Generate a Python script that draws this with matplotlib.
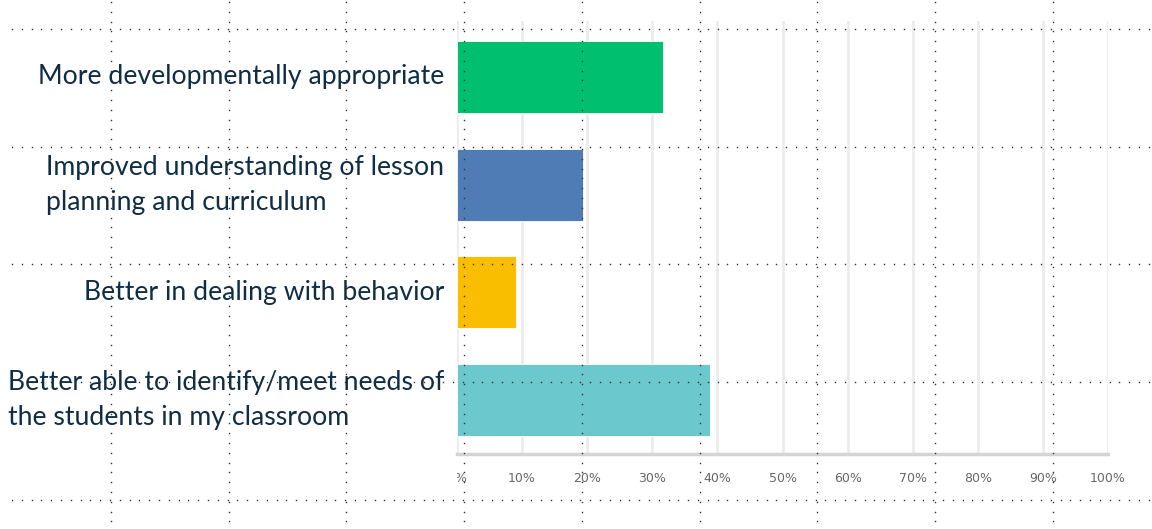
import matplotlib
matplotlib.use('Agg')
import matplotlib.pyplot as plt
import matplotlib.transforms as mtransforms
import numpy as np

categories = [
    'More developmentally appropriate',
    'Improved understanding of lesson\nplanning and curriculum',
    'Better in dealing with behavior',
    'Better able to identify/meet needs of\nthe students in my classroom',
]
values = [31.6, 19.3, 9.1, 38.8]
colors = ['#00bf6f', '#507cb6', '#f9be00', '#6bc8cd']
tick_vals = [0, 10, 20, 30, 40, 50, 60, 70, 80, 90, 100]
tick_labels = ['0%', '10%', '20%', '30%', '40%', '50%', '60%', '70%', '80%', '90%', '100%']

W, H = 1152, 529
fig = plt.figure(figsize=(W / 100, H / 100), dpi=100)
fig.patch.set_facecolor('white')

ax = fig.add_axes([457 / W, 1 - 454 / H, 651 / W, (454 - 21.5) / H])
ypos = np.arange(len(categories))
ax.barh(ypos, values, height=0.667, color=colors, edgecolor='#ffffff', linewidth=0.6, zorder=3)
ax.set_xlim(0, 100)
ax.set_ylim(3.5, -0.515)
ax.set_xticks(tick_vals)
ax.set_xticklabels(tick_labels, fontsize=9, color='#666666', family='DejaVu Sans')
ax.tick_params(axis='x', length=0, pad=13)
ax.set_yticks([])
ax.grid(axis='x', color='#ececec', linewidth=2, zorder=0)
for s in ['top', 'right', 'left']:
    ax.spines[s].set_visible(False)
ax.spines['bottom'].set_color('#d4d4d4')
ax.spines['bottom'].set_linewidth(2.5)

# first tick label is cut at the left edge of the plot
first = ax.get_xticklabels()[0]
clip = mtransforms.TransformedBbox(mtransforms.Bbox([[0, -1], [2, 1]]), ax.transAxes)
first.set_clip_box(clip)
first.set_clip_on(True)

trans = mtransforms.blended_transform_factory(ax.transAxes, ax.transData)
for i, lab in enumerate(categories):
    ax.text(-13 / 651, i, lab, transform=trans, ha='right', va='center',
            multialignment='left', fontsize=19.2, color='#0f2d45',
            family='Lato', linespacing=1.5)

# dotted layout guides on top
ov = fig.add_axes([0, 0, 1, 1], zorder=10)
ov.set_xlim(0, W)
ov.set_ylim(H, 0)
ov.axis('off')
ov.patch.set_alpha(0)
step = 117.7
gx = 111 + step * np.arange(9)
gy = 29 + step * np.arange(5)
hx = np.arange(12, W, 9.8)
vy = np.arange(2, H, 9.8)
for y in gy:
    ov.plot(hx, np.full_like(hx, y), ls='none', marker='s', ms=1.0, color='#333333', mew=0)
for x in gx:
    ov.plot(np.full_like(vy, x), vy, ls='none', marker='s', ms=1.0, color='#333333', mew=0)

fig.savefig('out.png', dpi=100)
